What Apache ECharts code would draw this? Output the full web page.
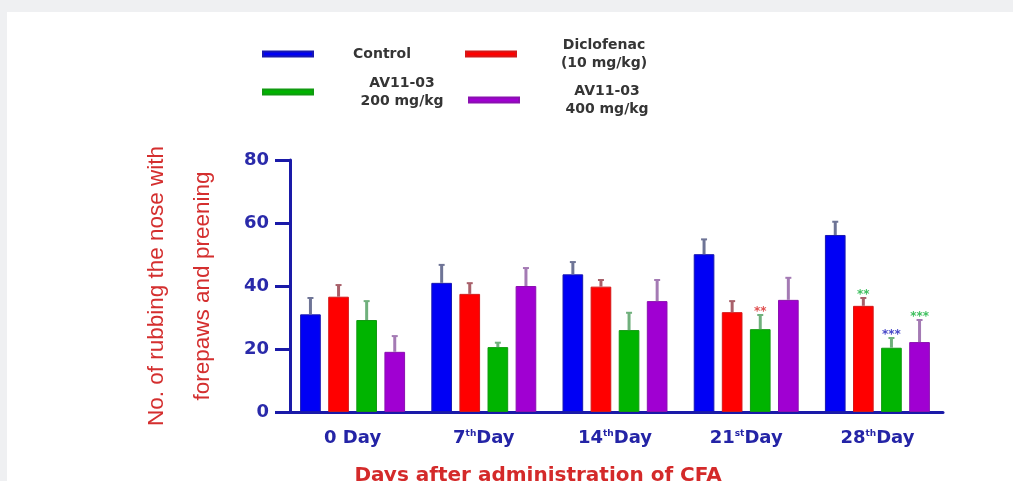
<!DOCTYPE html>
<html>
<head>
<meta charset="utf-8">
<script src="https://cdn.jsdelivr.net/npm/echarts@6/dist/echarts.min.js"></script>
<style>
html,body{margin:0;padding:0;background:#eff0f2;}
#chart{width:1013px;height:481px;}
</style>
</head>
<body>
<div id="chart"></div>
<script>
// ---- data ----
const categories = ['0 Day', '7th Day', '14th Day', '21st Day', '28th Day'];
const seriesNames = ['Control', 'Diclofenac (10 mg/kg)', 'AV11-03 200 mg/kg', 'AV11-03 400 mg/kg'];
const legendLines = [['Control'], ['Diclofenac', '(10 mg/kg)'], ['AV11-03', '200 mg/kg'], ['AV11-03', '400 mg/kg']];
const controlValues    = [31.0, 41.0, 43.7, 50.1, 56.2];
const controlErr       = [5.2, 5.7, 3.9, 4.7, 4.2];
const diclofenacValues = [36.6, 37.5, 39.8, 31.7, 33.7];
const diclofenacErr    = [3.7, 3.4, 2.1, 3.5, 2.5];
const av200Values      = [29.2, 20.6, 26.0, 26.3, 20.4];
const av200Err         = [6.0, 1.4, 5.5, 4.5, 3.1];
const av400Values      = [19.1, 40.0, 35.2, 35.6, 22.2];
const av400Err         = [5.0, 5.7, 6.7, 7.0, 7.0];
const controlStars     = ['', '', '', '', ''];
const diclofenacStars  = ['', '', '', '', '**'];
const av200Stars       = ['', '', '', '**', '***'];
const av400Stars       = ['', '', '', '', '***'];
const yTicks = [0, 20, 40, 60, 80];

// ---- styles ----
const barColors = ['#0000f5', '#ff0000', '#00b400', '#a000d2'];
const barBorders = ['#1818b0', '#d41818', '#109a10', '#8a10b0'];
const errColors = ['#6e7496', '#a8606a', '#70b07c', '#a47ab4'];
const starColors = {
  'Diclofenac (10 mg/kg)': ['', '', '', '', '#40c060'],
  'AV11-03 200 mg/kg': ['', '', '', '#e05050', '#4848c8'],
  'AV11-03 400 mg/kg': ['', '', '', '', '#40c060']
};

const values = [controlValues, diclofenacValues, av200Values, av400Values];
const errs = [controlErr, diclofenacErr, av200Err, av400Err];
const stars = [controlStars, diclofenacStars, av200Stars, av400Stars];

const BAR_GAP = 0.36, CAT_GAP = 0.2, N = 4;

function errRender(i) {
  return function (params, api) {
    const j = api.value(0), v = api.value(1), e = api.value(2);
    const base = api.coord([j, v]);
    const top = api.coord([j, v + e]);
    const bw = api.size([1, 0])[0];
    const bar = (1 - CAT_GAP) * bw / (N + (N - 1) * BAR_GAP);
    const x = base[0] - (1 - CAT_GAP) * bw / 2 + i * bar * (1 + BAR_GAP) + bar / 2;
    const children = [
      {type: 'line', shape: {x1: x, y1: base[1], x2: x, y2: top[1]}, style: {stroke: errColors[i], lineWidth: 3}},
      {type: 'line', shape: {x1: x - 3, y1: top[1], x2: x + 3, y2: top[1]}, style: {stroke: errColors[i], lineWidth: 2}}
    ];
    const s = stars[i][params.dataIndex];
    if (s) {
      children.push({type: 'text', x: x, y: top[1] - 3, style: {
        text: s, fill: starColors[seriesNames[i]][params.dataIndex], font: 'bold 12px "DejaVu Sans"',
        textAlign: 'center', textVerticalAlign: 'middle'}});
    }
    return {type: 'group', children: children};
  };
}

const series = [];
for (let i = 0; i < N; i++) {
  series.push({
    name: seriesNames[i], type: 'bar', data: values[i],
    barGap: (BAR_GAP * 100) + '%', barCategoryGap: (CAT_GAP * 100) + '%',
    itemStyle: {color: barColors[i], borderColor: barBorders[i], borderWidth: 1},
    z: 2
  });
}
for (let i = 0; i < N; i++) {
  series.push({
    name: seriesNames[i] + ' SEM', type: 'custom', renderItem: errRender(i),
    data: values[i].map((v, j) => [j, v, errs[i][j]]), z: 3, silent: true
  });
}

const legendPos = [
  {left: 262, top: 47}, {left: 465, top: 38}, {left: 262, top: 76}, {left: 468, top: 84}
];
const legendWidths = [128, 166, 168, 166];
const legends = seriesNames.map((n, i) => ({
  data: [n], left: legendPos[i].left, top: legendPos[i].top, padding: 0,
  icon: 'rect', itemWidth: 50, itemHeight: 5, selectedMode: false,
  formatter: () => legendLines[i].map(l => '{c|' + l + '}').join('\n'),
  textStyle: {rich: {c: {width: legendWidths[i], align: 'center', fontFamily: 'DejaVu Sans',
    fontWeight: 'bold', fontSize: 14, lineHeight: 18, color: '#353535'}}}
}));

const chart = echarts.init(document.getElementById('chart'));
chart.setOption({
  backgroundColor: '#eff0f2',
  animation: false,
  graphic: [{type: 'rect', left: 7, top: 12, z: -10, silent: true,
    shape: {width: 1006, height: 469}, style: {fill: '#ffffff'}}],
  legend: legends,
  grid: {left: 287, right: 70, top: 160, bottom: 69, outerBoundsMode: 'none', containLabel: false},
  xAxis: {
    type: 'category', data: categories,
    axisLine: {lineStyle: {color: '#1a1aa8', width: 3}},
    axisTick: {alignWithLabel: true, length: 5, lineStyle: {color: '#1a1aa8', width: 3}},
    axisLabel: {
      margin: 17, color: '#2424a6',
      formatter: v => {
        const m = v.match(/^(\d+)(st|th) Day$/);
        return m ? '{b|' + m[1] + '}{s|' + m[2] + '}{b|Day}' : '{b|' + v + '}';
      },
      rich: {
        b: {fontFamily: 'DejaVu Sans', fontWeight: 'bold', fontSize: 18, color: '#2424a6'},
        s: {fontFamily: 'DejaVu Sans', fontWeight: 'bold', fontSize: 9, color: '#2424a6', verticalAlign: 'top', padding: [0, 0, 10, 0]}
      }
    },
    name: 'Days after administration of CFA', nameLocation: 'middle', nameGap: 54,
    nameTextStyle: {color: '#d42a2a', fontFamily: 'DejaVu Sans', fontWeight: 'bold', fontSize: 20, padding: [0, 154, 0, 0]}
  },
  yAxis: {
    type: 'value', min: 0, max: 80, interval: 20, offset: -3,
    axisLine: {show: true, lineStyle: {color: '#1a1aa8', width: 3}},
    axisTick: {show: true, length: 15, lineStyle: {color: '#1a1aa8', width: 3}},
    splitLine: {show: false},
    axisLabel: {margin: 21, color: '#2a2aaa', fontFamily: 'DejaVu Sans', fontWeight: 'bold', fontSize: 18,
      formatter: v => yTicks.includes(v) ? String(v) : ''},
    name: 'No. of rubbing the nose with\nforepaws and preening', nameLocation: 'middle', nameGap: 64, nameRotate: 90,
    nameTextStyle: {color: '#d42f2f', fontFamily: '"Liberation Sans", Arial, sans-serif', fontSize: 22.5, lineHeight: 46}
  },
  series: series
});
</script>
</body>
</html>
